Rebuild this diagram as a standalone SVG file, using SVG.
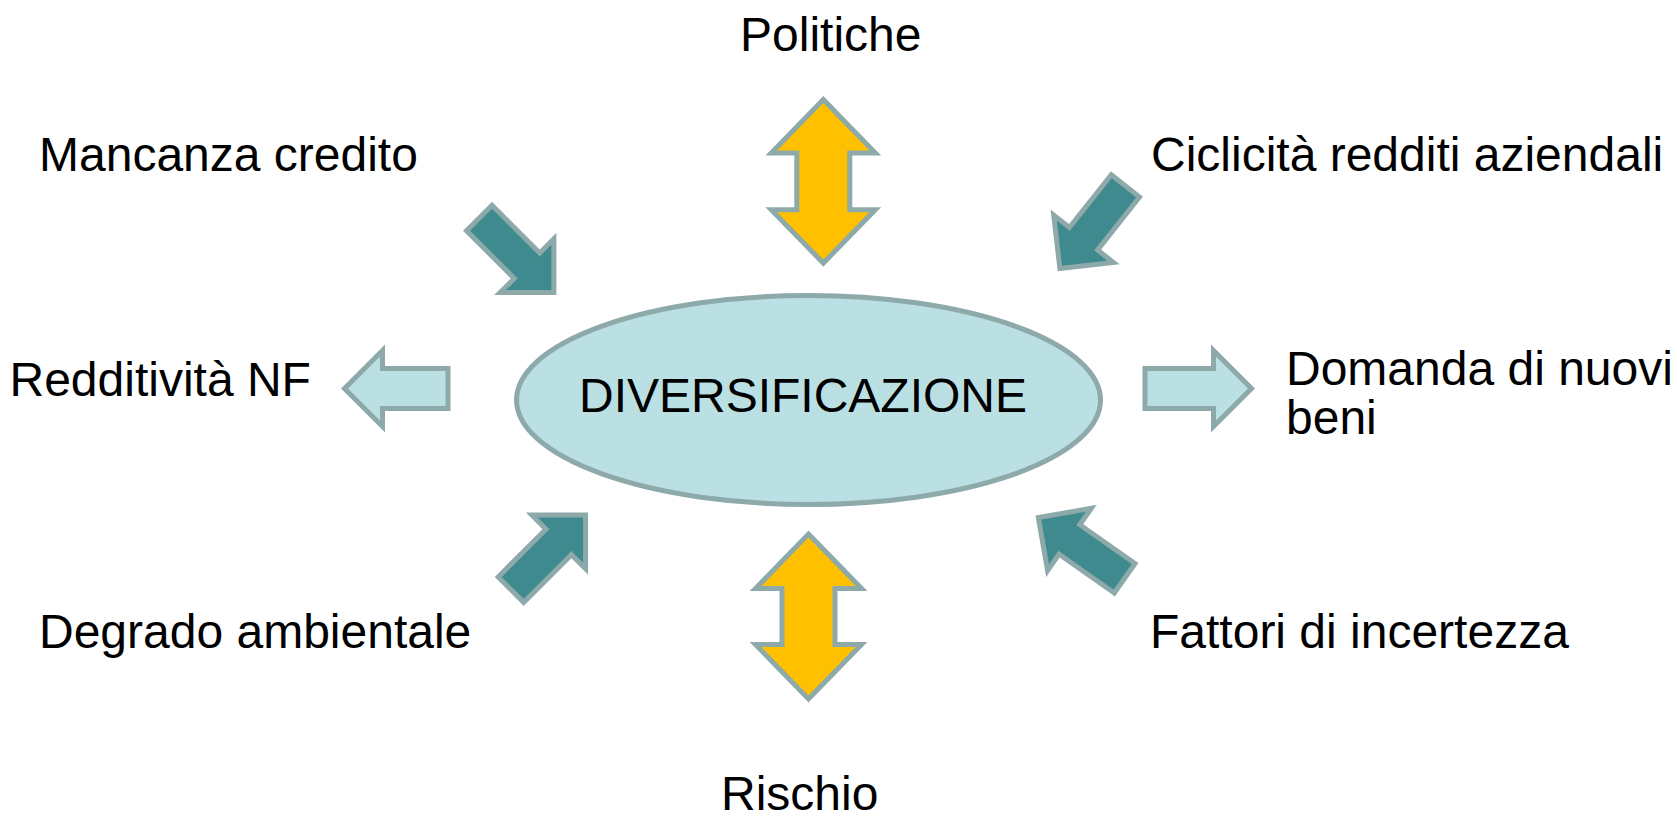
<svg xmlns="http://www.w3.org/2000/svg" width="1677" height="819" viewBox="0 0 1677 819">
<style>
.lbl{font-family:"Liberation Sans",Arial,sans-serif;font-size:48px;fill:#000}
.teal{fill:#3E8A8E;stroke:#8DA9AA;stroke-width:5;stroke-linejoin:miter}
.light{fill:#BBE0E3;stroke:#8DA9AA;stroke-width:5;stroke-linejoin:miter}
.yellow{fill:#FFC000;stroke:#8DA9AA;stroke-width:5;stroke-linejoin:miter}
</style>
<defs>
<polygon id="diag" points="2.5,-18 70,-18 70,-38 108,0 70,38 70,18 2.5,18"/>
</defs>
<rect width="1677" height="819" fill="#fff"/>
<g id="connectors">
<use href="#diag" class="teal" transform="translate(477.5,216.2) rotate(45)"/>
<use href="#diag" class="teal" transform="translate(1127,183.9) rotate(128.4)"/>
<use href="#diag" class="teal" transform="translate(509.2,591.4) rotate(-45)"/>
<use href="#diag" class="teal" transform="translate(1126.7,579.7) rotate(-144.9)"/>
<polygon class="light" points="448,368.5 382.5,368.5 382.5,350.5 344.5,388.5 382.5,426.5 382.5,408.5 448,408.5"/>
<polygon class="light" points="1145,368.5 1213.5,368.5 1213.5,350.5 1251.5,388.5 1213.5,426.5 1213.5,408.5 1145,408.5"/>
<polygon class="yellow" points="823.3,99.5 875.3,152.9 849.8,152.9 849.8,209.7 875.3,209.7 823.3,263.1 771.3,209.7 796.8,209.7 796.8,152.9 771.3,152.9"/>
<polygon class="yellow" points="808.5,534 861.5,588.5 835,588.5 835,644.5 861.5,644.5 808.5,699 755.5,644.5 782,644.5 782,588.5 755.5,588.5"/>
</g>
<g id="center">
<ellipse cx="808.5" cy="400" rx="292" ry="104.5" fill="#BBE0E3" stroke="#8DA9AA" stroke-width="5"/>
<text class="lbl" x="803" y="412" text-anchor="middle">DIVERSIFICAZIONE</text>
</g>
<g id="politiche"><text class="lbl" x="740" y="51">Politiche</text></g>
<g id="mancanza"><text class="lbl" x="39" y="171">Mancanza credito</text></g>
<g id="ciclicita"><text class="lbl" x="1151" y="171">Ciclicità redditi aziendali</text></g>
<g id="redditivita"><text class="lbl" x="9.5" y="396">Redditività NF</text></g>
<g id="domanda"><text class="lbl" x="1286" y="385">Domanda di nuovi</text><text class="lbl" x="1286" y="434">beni</text></g>
<g id="degrado"><text class="lbl" x="39" y="648">Degrado ambientale</text></g>
<g id="fattori"><text class="lbl" x="1150" y="648">Fattori di incertezza</text></g>
<g id="rischio"><text class="lbl" x="721" y="810">Rischio</text></g>
</svg>
